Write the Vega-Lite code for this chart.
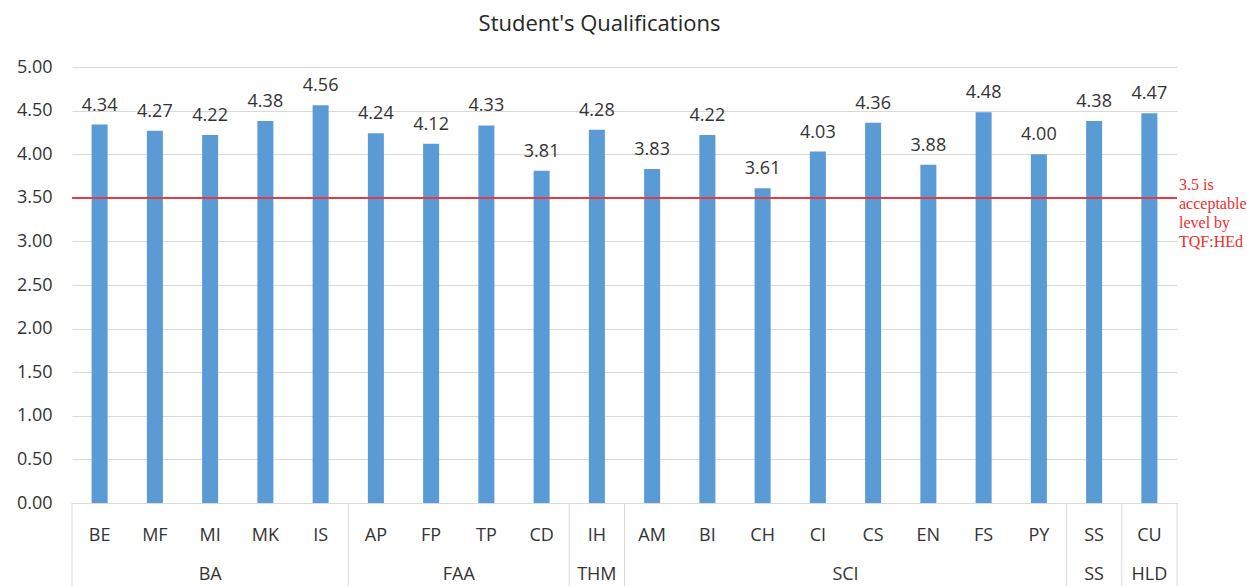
{
  "$schema": "https://vega.github.io/schema/vega-lite/v6.json",
  "width": 1105,
  "height": 436,
  "autosize": "none",
  "padding": {"left": 72, "top": 67, "right": 70, "bottom": 83},
  "background": "white",
  "title": {"text": "Student's Qualifications", "fontSize": 22, "font": "Open Sans", "fontWeight": "normal", "color": "#262626", "offset": 22, "dx": -25},
  "config": {"view": {"stroke": null}, "font": "Open Sans"},
  "datasets": {
    "bars": [
      {"cat": "BE", "group": "BA", "value": 4.34},
      {"cat": "MF", "group": "BA", "value": 4.27},
      {"cat": "MI", "group": "BA", "value": 4.22},
      {"cat": "MK", "group": "BA", "value": 4.38},
      {"cat": "IS", "group": "BA", "value": 4.56},
      {"cat": "AP", "group": "FAA", "value": 4.24},
      {"cat": "FP", "group": "FAA", "value": 4.12},
      {"cat": "TP", "group": "FAA", "value": 4.33},
      {"cat": "CD", "group": "FAA", "value": 3.81},
      {"cat": "IH", "group": "THM", "value": 4.28},
      {"cat": "AM", "group": "SCI", "value": 3.83},
      {"cat": "BI", "group": "SCI", "value": 4.22},
      {"cat": "CH", "group": "SCI", "value": 3.61},
      {"cat": "CI", "group": "SCI", "value": 4.03},
      {"cat": "CS", "group": "SCI", "value": 4.36},
      {"cat": "EN", "group": "SCI", "value": 3.88},
      {"cat": "FS", "group": "SCI", "value": 4.48},
      {"cat": "PY", "group": "SCI", "value": 4.00},
      {"cat": "SS", "group": "SS", "value": 4.38},
      {"cat": "CU", "group": "HLD", "value": 4.47}
    ],
    "groups": [
      {"group": "BA", "start": 0, "end": 5},
      {"group": "FAA", "start": 5, "end": 9},
      {"group": "THM", "start": 9, "end": 10},
      {"group": "SCI", "start": 10, "end": 18},
      {"group": "SS", "start": 18, "end": 19},
      {"group": "HLD", "start": 19, "end": 20}
    ]
  },
  "resolve": {"scale": {"x": "independent"}, "axis": {"x": "independent"}},
  "layer": [
    {
      "data": {"name": "bars"},
      "encoding": {
        "x": {
          "field": "cat", "type": "nominal", "sort": null,
          "scale": {"paddingInner": 0.71, "paddingOuter": 0.355},
          "axis": {"title": null, "labelAngle": 0, "ticks": false, "domain": true, "domainColor": "#D9D9D9", "grid": false, "labelPadding": 23, "labelFontSize": 18, "labelColor": "#333333", "labelFont": "Open Sans"}
        },
        "y": {
          "field": "value", "type": "quantitative",
          "scale": {"domain": [0, 5], "nice": false},
          "axis": {"title": null, "values": [0, 0.5, 1, 1.5, 2, 2.5, 3, 3.5, 4, 4.5, 5], "format": ".2f", "grid": true, "gridColor": "#D9D9D9", "domain": false, "ticks": false, "labelPadding": 20, "labelFontSize": 18, "labelColor": "#333333", "labelFont": "Open Sans"}
        }
      },
      "layer": [
        {"mark": {"type": "bar", "color": "#5B9BD5"}},
        {"mark": {"type": "text", "baseline": "alphabetic", "dy": -14, "fontSize": 18, "color": "#333333"},
         "encoding": {"text": {"field": "value", "type": "quantitative", "format": ".2f"}}}
      ]
    },
    {
      "data": {"name": "groups"},
      "layer": [
        {
          "transform": [
            {"fold": ["start", "end"], "as": ["edge", "pos"]},
            {"aggregate": [{"op": "count", "as": "n"}], "groupby": ["pos"]}
          ],
          "mark": {"type": "rule", "color": "#D9D9D9", "strokeWidth": 1},
          "encoding": {
            "x": {"field": "pos", "type": "quantitative", "scale": {"domain": [0, 20], "nice": false, "zero": false}, "axis": null},
            "y": {"datum": 0},
            "y2": {"datum": -1}
          }
        },
        {
          "transform": [{"calculate": "(datum.start + datum.end) / 2", "as": "mid"}],
          "mark": {"type": "text", "baseline": "top", "dy": 63, "fontSize": 18, "color": "#333333"},
          "encoding": {
            "x": {"field": "mid", "type": "quantitative", "scale": {"domain": [0, 20], "nice": false, "zero": false}, "axis": null},
            "y": {"datum": 0},
            "text": {"field": "group"}
          }
        },
        {
          "mark": {"type": "rule", "color": "#E03C44", "strokeWidth": 1.5},
          "encoding": {"y": {"datum": 3.5}}
        },
        {
          "data": {"values": [{"label": "3.5 is acceptable level by TQF:HEd"}]},
          "mark": {"type": "text", "align": "left", "baseline": "top", "dx": 2, "dy": -21, "font": "Liberation Serif", "fontSize": 16, "lineHeight": 19, "color": "#F02B2B", "text": ["3.5 is", "acceptable", "level by", "TQF:HEd"]},
          "encoding": {
            "x": {"datum": 20, "type": "quantitative", "scale": {"domain": [0, 20], "nice": false, "zero": false}, "axis": null},
            "y": {"datum": 3.5}
          }
        }
      ]
    }
  ]
}
